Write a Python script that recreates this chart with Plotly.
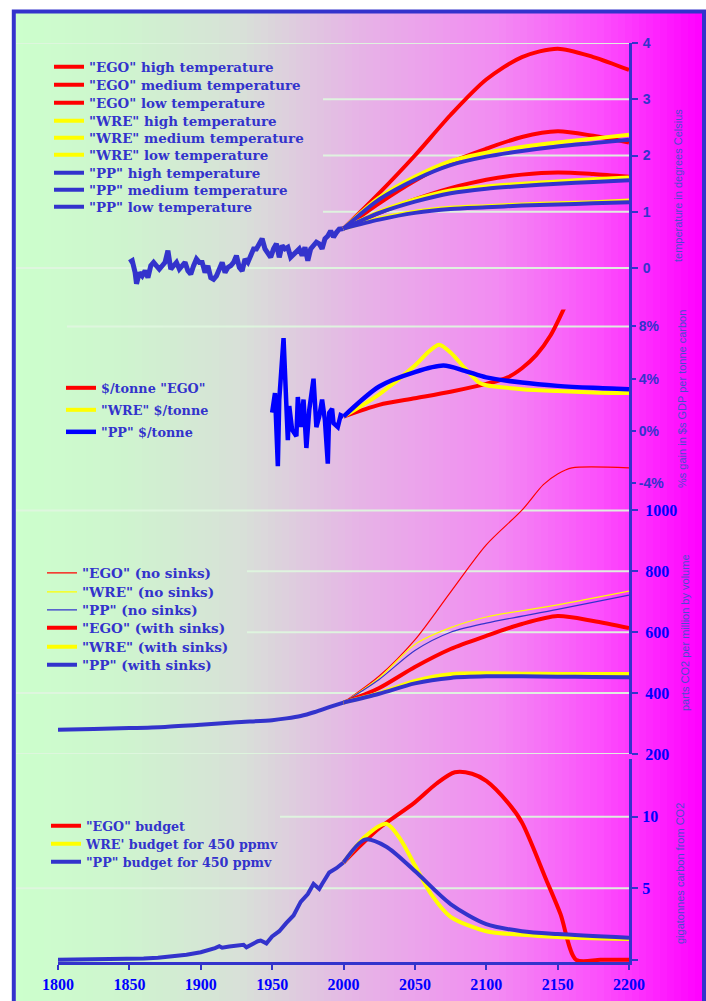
import plotly.graph_objects as go

# ---------------- DATA ----------------
# Panel 1: temperature (degrees Celsius)
temp_hist_years = [1850,1852,1854,1855,1857,1859,1861,1863,1865,1867,1869,1871,1873,1875,1877,1879,
                   1881,1883,1885,1887,1889,1891,1893,1895,1897,1899,1901,1903,1905,1907,1909,1911,
                   1913,1915,1917,1919,1921,1923,1925,1927,1929,1931,1933,1935,1937,1939,1941,1943,
                   1945,1947,1949,1951,1953,1955,1957,1959,1961,1963,1965,1967,1969,1971,1973,1975,
                   1977,1979,1981,1983,1985,1987,1989,1991,1993,1995,1997,2000]
temp_hist = [0.10,0.13,-0.08,-0.28,-0.08,-0.14,-0.05,-0.17,0.04,0.10,0.04,-0.02,0.04,0.10,0.31,-0.02,
             0.04,0.10,-0.02,0.04,0.10,-0.05,-0.11,0.04,0.16,0.10,0.10,-0.08,0.04,-0.17,-0.20,-0.14,
             -0.02,0.10,-0.08,0.01,0.04,0.10,0.22,0.01,-0.05,0.16,0.10,0.25,0.34,0.34,0.43,0.52,
             0.34,0.28,0.19,0.34,0.43,0.19,0.40,0.34,0.37,0.19,0.25,0.31,0.34,0.22,0.37,0.13,
             0.34,0.40,0.46,0.43,0.34,0.52,0.57,0.66,0.55,0.63,0.69,0.70]

temp_years = [2000, 2025, 2050, 2075, 2100, 2125, 2150, 2175, 2200]
ego_high = [0.70, 1.33, 2.00, 2.72, 3.35, 3.75, 3.90, 3.75, 3.52]
ego_med  = [0.70, 1.15, 1.55, 1.88, 2.12, 2.33, 2.43, 2.35, 2.23]
ego_low  = [0.70, 0.98, 1.22, 1.42, 1.57, 1.66, 1.70, 1.67, 1.62]
wre_high = [0.70, 1.25, 1.62, 1.90, 2.05, 2.15, 2.23, 2.30, 2.37]
wre_med  = [0.70, 1.00, 1.22, 1.38, 1.45, 1.50, 1.54, 1.58, 1.61]
wre_low  = [0.70, 0.88, 1.00, 1.07, 1.10, 1.13, 1.15, 1.17, 1.20]
pp_high  = [0.70, 1.22, 1.57, 1.83, 1.98, 2.08, 2.16, 2.22, 2.28]
pp_med   = [0.70, 0.98, 1.18, 1.33, 1.41, 1.46, 1.50, 1.53, 1.56]
pp_low   = [0.70, 0.86, 0.98, 1.05, 1.08, 1.11, 1.13, 1.15, 1.17]

# Panel 2: % gain in $s GDP per tonne carbon
gain_hist_years = [1950,1952,1954,1955,1958,1960,1961,1962,1964,1967,1968,1970,1972,1974,1976,1979,
                   1981,1983,1985,1987,1989,1990,1992,1993,1996,1998,2000]
gain_hist = [1.4,2.9,-2.7,2.4,7.1,1.1,-0.7,1.9,0.1,-0.4,2.6,0.3,2.4,-1.3,1.6,4.0,
             0.3,1.1,2.4,0.8,-2.5,1.4,1.7,0.6,0.3,1.2,1.1]
gain_ego_years = [2000, 2025, 2050, 2075, 2100, 2115, 2125, 2135, 2145, 2155]
gain_ego = [1.1, 2.0, 2.5, 3.0, 3.6, 4.1, 4.8, 5.8, 7.3, 9.5]
gain_wre_years = [2000, 2025, 2050, 2060, 2067, 2075, 2085, 2095, 2100, 2125, 2150, 2175, 2200]
gain_wre = [1.1, 2.8, 5.0, 6.1, 6.6, 6.0, 4.8, 3.7, 3.5, 3.2, 3.05, 2.95, 2.9]
gain_pp_years = [2000, 2025, 2050, 2070, 2085, 2100, 2125, 2150, 2175, 2200]
gain_pp = [1.1, 3.4, 4.5, 5.0, 4.6, 4.1, 3.7, 3.45, 3.3, 3.2]

# Panel 3: parts CO2 per million by volume
ppm_hist_years = [1800, 1825, 1850, 1875, 1900, 1925, 1950, 1960, 1970, 1980, 1990, 2000]
ppm_hist = [280, 282, 285, 289, 296, 304, 311, 317, 325, 338, 354, 369]
ego_nosink_years = [2000, 2025, 2050, 2075, 2100, 2125, 2140, 2150, 2160, 2200]
ego_nosink = [369, 456, 575, 732, 887, 1001, 1085, 1120, 1140, 1140]
nosink_years = [2000, 2025, 2050, 2075, 2100, 2150, 2200]
wre_nosink = [369, 450, 560, 615, 650, 690, 735]
pp_nosink = [369, 445, 540, 600, 630, 675, 722]
sink_years = [2000, 2025, 2050, 2075, 2100, 2125, 2150, 2175, 2200]
ego_sink = [369, 417, 486, 545, 588, 627, 653, 637, 614]
wre_sink = [369, 400, 440, 462, 465, 464, 463, 463, 463]
pp_sink = [369, 398, 432, 450, 455, 455, 454, 453, 452]

# Panel 4: gigatonnes carbon from CO2
gtc_hist_years = [1800,1820,1840,1850,1860,1870,1880,1890,1900,1905,1910,1913,1915,1920,1925,1930,
                  1932,1935,1940,1942,1945,1946,1950,1955,1960,1965,1970,1975,1979,1980,1983,1985,
                  1990,1995,2000]
gtc_hist = [0.0,0.01,0.03,0.05,0.09,0.15,0.24,0.36,0.53,0.65,0.82,0.95,0.85,0.93,0.97,1.05,
            0.88,1.05,1.3,1.35,1.2,1.15,1.63,2.0,2.58,3.1,4.05,4.6,5.3,5.2,4.95,5.3,
            6.1,6.4,6.8]
gtc_ego_years = [2000, 2012, 2025, 2050, 2065, 2078, 2090, 2100, 2115, 2125, 2142, 2152, 2163, 2180, 2200]
gtc_ego = [6.8, 8.0, 9.2, 11.0, 12.3, 13.1, 13.0, 12.5, 11.0, 9.6, 5.6, 3.2, 0.0, 0.0, 0.0]
gtc_wre_years = [2000, 2015, 2030, 2040, 2050, 2062, 2075, 2100, 2125, 2150, 2200]
gtc_wre = [6.8, 8.6, 9.5, 8.4, 6.6, 4.5, 3.0, 2.0, 1.75, 1.6, 1.45]
gtc_pp_years = [2000, 2015, 2030, 2050, 2075, 2100, 2125, 2150, 2200]
gtc_pp = [6.8, 8.4, 7.9, 6.2, 3.9, 2.5, 2.0, 1.8, 1.55]

x_ticks = [1800, 1850, 1900, 1950, 2000, 2050, 2100, 2150, 2200]

# ---------------- STYLE ----------------
RED = "#ff0000"
YEL = "#ffff00"
PPB = "#3333cc"
BLUE = "#0000ff"
TXT = "#3333cc"
W, H = 706, 1001
ML, MR, MT, MB = 58, 77, 10, 39
PW = W - ML - MR
PH = H - MT - MB


def pxx(p):
    return (p - ML) / PW


def pxy(p):
    return (H - MB - p) / PH


fig = go.Figure()
legends = {}
counter = [0]


def add_line(x, y, yaxis, name, color, width, legend_pos=None, fsize=13, shape="spline"):
    if legend_pos is not None:
        counter[0] += 1
        lid = "legend" if counter[0] == 1 else "legend%d" % counter[0]
        legends[lid] = dict(x=pxx(legend_pos[0]), y=pxy(legend_pos[1]), xanchor="left",
                            yanchor="middle", bgcolor="rgba(0,0,0,0)", borderwidth=0,
                            font=dict(family="DejaVu Serif", size=fsize, color=TXT, weight="bold"))
        kw = dict(legend=lid, showlegend=True)
    else:
        kw = dict(showlegend=False)
    fig.add_trace(go.Scatter(x=x, y=y, yaxis=yaxis, xaxis="x", name=name, mode="lines",
                             line=dict(color=color, width=width, shape=shape, smoothing=0.8),
                             hoverinfo="skip", **kw))


# Panel 1
add_line(temp_hist_years, temp_hist, "y", "history", PPB, 5, shape="linear")
p1 = [(49, 67), (49, 85), (49, 103), (49, 121), (49, 138), (49, 155), (49, 173), (49, 190), (49, 207)]
series1 = [('"EGO" high temperature', ego_high, RED), ('"EGO" medium temperature', ego_med, RED),
           ('"EGO" low temperature', ego_low, RED), ('"WRE" high temperature', wre_high, YEL),
           ('"WRE" medium temperature', wre_med, YEL), ('"WRE" low temperature', wre_low, YEL),
           ('"PP" high temperature', pp_high, PPB), ('"PP" medium temperature', pp_med, PPB),
           ('"PP" low temperature', pp_low, PPB)]
for (nm, vals, col), pos in zip(series1, p1):
    add_line(temp_years, vals, "y", nm, col, 4, pos, 13.4)

# Panel 2
add_line(gain_hist_years, gain_hist, "y2", "history", BLUE, 4.5, shape="linear")
add_line(gain_ego_years, gain_ego, "y2", '$/tonne "EGO"', RED, 4, (61, 388), 12.8)
add_line(gain_wre_years, gain_wre, "y2", '"WRE" $/tonne', YEL, 4, (61, 410), 12.8)
add_line(gain_pp_years, gain_pp, "y2", '"PP" $/tonne', BLUE, 4.5, (61, 432), 12.8)

# Panel 3
add_line(ppm_hist_years, ppm_hist, "y3", "history", PPB, 4)
add_line(ego_nosink_years, ego_nosink, "y3", '"EGO" (no sinks)', RED, 1.2, (42, 573), 13.6)
add_line(nosink_years, wre_nosink, "y3", '"WRE" (no sinks)', YEL, 1.2, (42, 592), 13.6)
add_line(nosink_years, pp_nosink, "y3", '"PP" (no sinks)', PPB, 1.2, (42, 610), 13.6)
add_line(sink_years, ego_sink, "y3", '"EGO" (with sinks)', RED, 4, (42, 628), 13.6)
add_line(sink_years, wre_sink, "y3", '"WRE" (with sinks)', YEL, 4, (42, 647), 13.6)
add_line(sink_years, pp_sink, "y3", '"PP" (with sinks)', PPB, 4, (42, 665), 13.6)

# Panel 4
add_line(gtc_hist_years, gtc_hist, "y4", "history", PPB, 4, shape="linear")
add_line(gtc_ego_years, gtc_ego, "y4", '"EGO" budget', RED, 4, (46, 826), 12.7)
add_line(gtc_wre_years, gtc_wre, "y4", "WRE' budget for 450 ppmv", YEL, 4, (46, 844), 12.7)
add_line(gtc_pp_years, gtc_pp, "y4", '"PP" budget for 450 ppmv', PPB, 4, (46, 862), 12.7)

# ---------------- BACKGROUND ----------------
stops = [(0.0, (204, 255, 204)), (0.15, (206, 245, 206)), (0.33, (216, 224, 216)),
         (0.5, (230, 180, 230)), (0.7, (242, 140, 242)), (0.85, (252, 80, 252)), (1.0, (255, 0, 255))]


def grad(t):
    for (t0, c0), (t1, c1) in zip(stops[:-1], stops[1:]):
        if t0 <= t <= t1:
            f = (t - t0) / (t1 - t0)
            return "rgb(%d,%d,%d)" % tuple(round(a + (b - a) * f) for a, b in zip(c0, c1))
    return "rgb(255,0,255)"


shapes = []
x_start, x_end, nstrip = 16, 702, 98
sw = (x_end - x_start) / nstrip
for i in range(nstrip):
    a = x_start + i * sw
    shapes.append(dict(type="rect", xref="paper", yref="paper", x0=pxx(a), x1=pxx(a + sw + 0.8),
                       y0=pxy(1010), y1=pxy(12), line=dict(width=0),
                       fillcolor=grad((i + 0.5) / nstrip), layer="below"))

GRID = "rgba(222,246,222,0.95)"
grid_specs = [("y", 4, 16), ("y", 3, 323), ("y", 2, 323), ("y", 1, 323), ("y", 0, 16),
              ("y2", 8, 67),
              ("y3", 1000, 16), ("y3", 800, 247), ("y3", 600, 247), ("y3", 400, 16), ("y3", 200, 16),
              ("y4", 10, 280), ("y4", 5, 16)]
for ref, val, start in grid_specs:
    shapes.append(dict(type="line", xref="paper", yref=ref, x0=pxx(start), x1=1, y0=val, y1=val,
                       line=dict(color=GRID, width=2), layer="below"))

shapes.append(dict(type="rect", xref="paper", yref="paper", x0=pxx(13.8), x1=pxx(704),
                   y0=pxy(1012), y1=pxy(11.5), line=dict(color="#3333cc", width=4),
                   fillcolor="rgba(0,0,0,0)", layer="above"))

# ---------------- AXES ----------------
sans_tick = dict(family="Liberation Sans", size=14, color=TXT, weight="bold")
serif_tick = dict(family="Liberation Serif", size=16, color=BLUE, weight="bold")
common_y = dict(side="right", anchor="x", showgrid=False, zeroline=False, showline=True,
                linecolor="#3333cc", linewidth=3, ticks="outside", tickwidth=2,
                tickcolor="#3333cc", fixedrange=True, automargin=False,
                layer="below traces")

fig.update_layout(
    width=W, height=H, autosize=False,
    margin=dict(l=ML, r=MR, t=MT, b=MB, autoexpand=False),
    paper_bgcolor="white", plot_bgcolor="rgba(0,0,0,0)",
    shapes=shapes,
    xaxis=dict(range=[1800, 2200], anchor="y4", tickvals=x_ticks, showgrid=False, zeroline=False,
               showline=True, linecolor="#3333cc", linewidth=3, ticks="outside", ticklen=5,
               tickwidth=2, tickcolor="#3333cc", tickfont=serif_tick, ticklabelstandoff=1,
               fixedrange=True, automargin=False, layer="below traces"),
    yaxis=dict(domain=[pxy(310.2), pxy(43)], range=[-0.75, 4], tickvals=[0, 1, 2, 3, 4],
               tickfont=sans_tick, ticklen=6, ticklabelstandoff=2, **common_y),
    yaxis2=dict(domain=[pxy(491.1), pxy(309.4)], range=[-4.6, 9.3], tickvals=[-4, 0, 4, 8],
                ticktext=["-4%", "0%", "4%", "8%"], tickfont=sans_tick, ticklen=4,
                ticklabelstandoff=0, **common_y),
    yaxis3=dict(domain=[pxy(754), pxy(464.8)], range=[200, 1150], tickvals=[200, 400, 600, 800, 1000],
                tickfont=serif_tick, ticklen=6, ticklabelstandoff=4, **common_y),
    yaxis4=dict(domain=[pxy(962), pxy(759.4)], range=[-0.15, 14], tickvals=[0, 5, 10],
                ticktext=["", "5", "10"], tickfont=serif_tick, ticklen=6, ticklabelstandoff=1,
                **common_y),
    showlegend=True,
    hovermode=False,
)
fig.update_layout(**legends)

title_font = dict(family="Liberation Sans", size=11, color="#4a4ad0")
titles = [("temperature in degrees Celsius", 678, 186),
          ("%s gain in $s GDP per tonne carbon", 682, 399),
          ("parts CO2 per million by volume", 685, 633),
          ("gigatonnes carbon from CO2", 680, 874)]
for txt, xp, yp in titles:
    fig.add_annotation(text=txt, xref="paper", yref="paper", x=pxx(xp), y=pxy(yp),
                       xanchor="center", yanchor="middle", showarrow=False, textangle=-90,
                       font=title_font)

fig.write_html("out.html", config={"displayModeBar": False},
               post_script="document.body.style.margin='0';document.body.style.overflow='hidden';")
